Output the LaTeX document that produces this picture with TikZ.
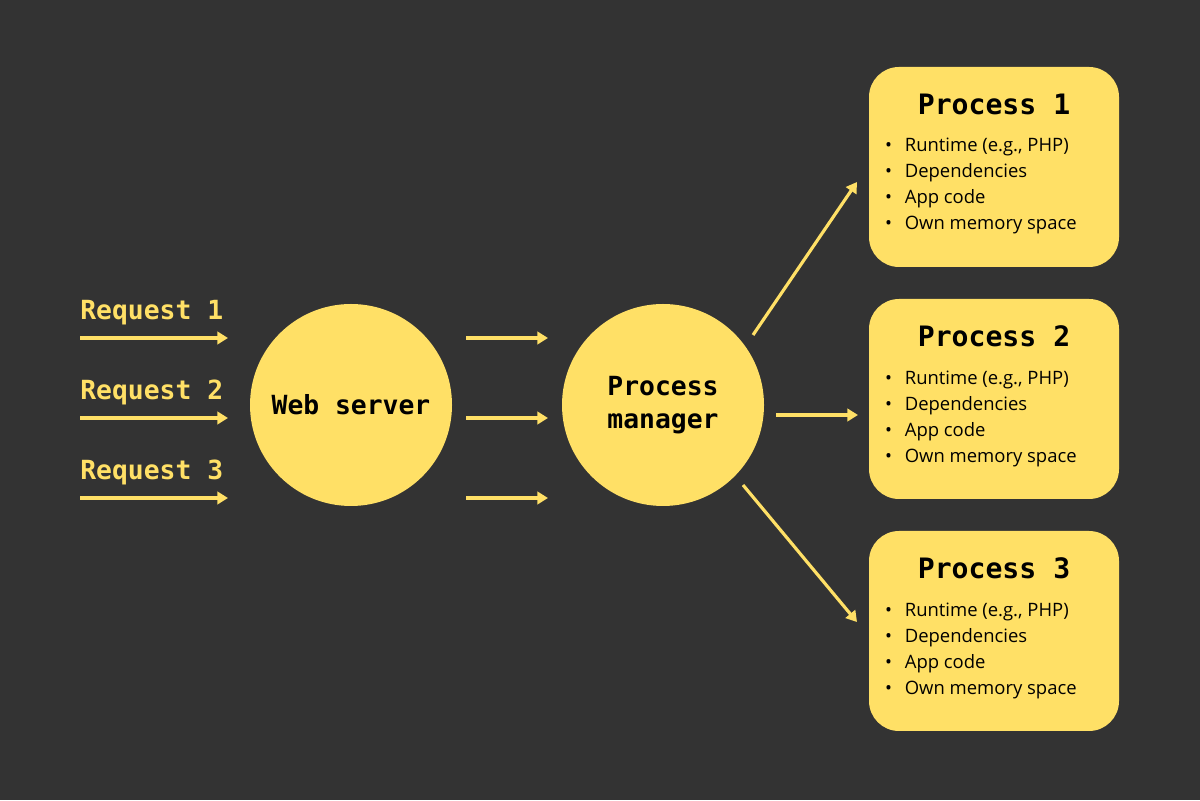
\documentclass[tikz,border=0pt]{standalone}
\usepackage{fontspec}
\setmainfont{Open Sans}
\newfontfamily\pixfont{DejaVu Sans Mono}
\usetikzlibrary{positioning,arrows.meta}
\definecolor{bgdark}{HTML}{333333}
\definecolor{sunyellow}{HTML}{FFE066}

\tikzset{
  flow/.style={draw=sunyellow, line width=1.8pt, -{Triangle[length=6pt,width=7pt]}},
  hub/.style={circle, fill=sunyellow, minimum size=4.04cm, inner sep=0pt, align=center,
    font=\pixfont\bfseries\fontsize{15}{19}\selectfont},
  procbox/.style={rounded corners=0.6cm, fill=sunyellow, minimum width=5cm, minimum height=4cm},
  reqlabel/.style={text=sunyellow, anchor=south west, inner sep=0pt, font=\pixfont\bfseries\fontsize{15}{18}\selectfont}
}

\newcommand{\procbody}[2]{%
  \node[procbox] (#1) at (19.88,#2) {};
  \node[font=\pixfont\bfseries\fontsize{16}{19}\selectfont, below=0.45cm of #1.north] (#1title) {Process \ldots};
}

\begin{document}
\begin{tikzpicture}
\fill[bgdark] (0,0) rectangle (24,16);
\useasboundingbox (0,0) rectangle (24,16);

% servers
\node[hub] (web) at (7.02,7.9) {Web server};
\node[hub] (pm) at (13.26,7.9) {Process\\manager};

% incoming requests
\foreach \i/\y in {1/9.24,2/7.64,3/6.04}{
  \coordinate (reqA\i) at (1.6,\y);
  \coordinate (reqB\i) at (4.56,\y);
  \draw[flow] (reqA\i) -- (reqB\i);
  \node[reqlabel] (req\i) at (1.6,\y+0.26) {Request \i};
  \coordinate (midA\i) at (9.32,\y);
  \coordinate (midB\i) at (10.96,\y);
  \draw[flow] (midA\i) -- (midB\i);
}

% worker processes
\foreach \i/\y in {1/12.66,2/8.02,3/3.38}{
  \node[procbox] (proc\i) at (19.88,\y) {};
  \node[font=\pixfont\bfseries\fontsize{16}{19}\selectfont, below=0.42cm of proc\i.north] (title\i) {Process \i};
  \node[anchor=north west, align=left, inner sep=0pt, font=\fontsize{10.5}{14.8}\selectfont]
    (list\i) at ([xshift=0.32cm,yshift=-0.34cm]proc\i.north west |- title\i.south)
    {\textbullet\hspace{0.7em}Runtime (e.g., PHP)\\
     \textbullet\hspace{0.7em}Dependencies\\
     \textbullet\hspace{0.7em}App code\\
     \textbullet\hspace{0.7em}Own memory space};
}

\coordinate (out1) at (15.06,9.3);
\coordinate (out2) at (15.52,7.7);
\coordinate (out3) at (14.86,6.3);
\coordinate (in1) at (17.14,12.36);
\coordinate (in2) at (17.16,7.7);
\coordinate (in3) at (17.14,3.56);
\foreach \i in {1,2,3}
  \draw[flow] (out\i) -- (in\i);
\end{tikzpicture}
\end{document}
